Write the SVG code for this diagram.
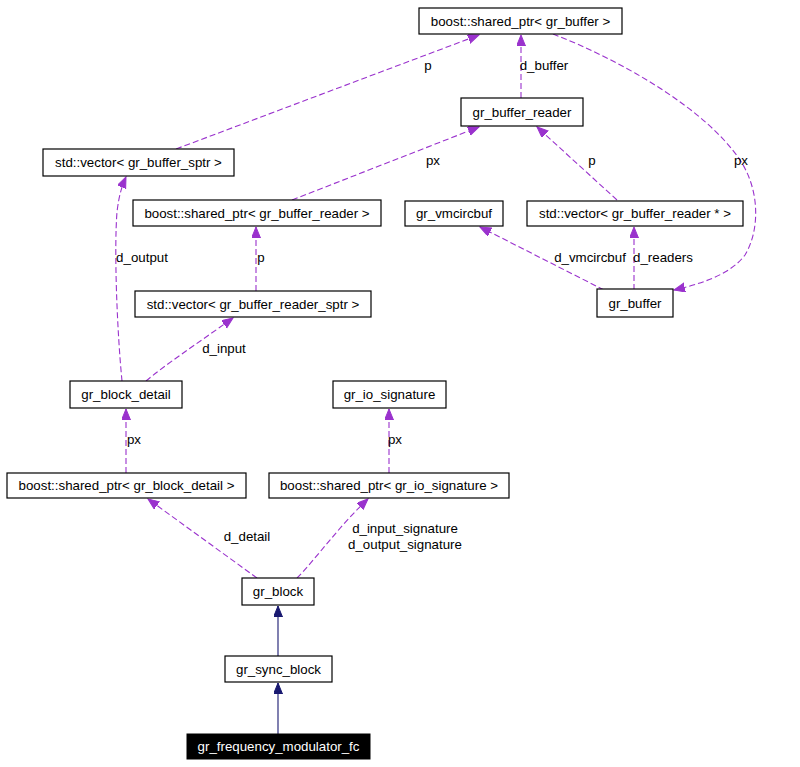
<svg xmlns="http://www.w3.org/2000/svg" width="800" height="767" viewBox="0 0 800 767">
<style>
.n rect{fill:#fff;stroke:#000;stroke-width:1.2}
.n text,.l{font-family:"Liberation Sans",Arial,sans-serif;font-size:13.3px;fill:#000;text-anchor:middle}
.d{fill:none;stroke:#9a32cd;stroke-width:1.1;stroke-dasharray:6,3}
.s{fill:none;stroke:#191970;stroke-width:1.1}
</style>
<defs>
<marker id="ap" markerWidth="12" markerHeight="10" refX="11" refY="4.5" orient="auto" markerUnits="userSpaceOnUse" viewBox="0 0 12 10">
<polygon points="0,0 11,4.5 0,9" fill="#9a32cd" stroke="#9a32cd"/>
</marker>
<marker id="as" markerWidth="12" markerHeight="10" refX="11" refY="4.5" orient="auto" markerUnits="userSpaceOnUse" viewBox="0 0 12 10">
<polygon points="0,0 11,4.5 0,9" fill="#191970" stroke="#191970"/>
</marker>
</defs>
<rect width="800" height="767" fill="#fff"/>
<g id="edges">
<path class="d" marker-end="url(#ap)" d="M176,149 L479,35"/>
<path class="d" marker-end="url(#ap)" d="M521,98 L521,35"/>
<path class="d" marker-end="url(#ap)" d="M553,34 C620,60 705,108 740,160 C760,190 760,230 745,255 C730,275 700,284 674,290"/>
<path class="d" marker-end="url(#ap)" d="M292,200 L479,127"/>
<path class="d" marker-end="url(#ap)" d="M617,200 L537,127"/>
<path class="d" marker-end="url(#ap)" d="M256,291 L256,227"/>
<path class="d" marker-end="url(#ap)" d="M604,290 L480,227"/>
<path class="d" marker-end="url(#ap)" d="M634,290 L634,227"/>
<path class="d" marker-end="url(#ap)" d="M122,381 C117,330 114,250 117,212 C119,195 122,186 126,177"/>
<path class="d" marker-end="url(#ap)" d="M146,381 C165,365 195,345 233,318"/>
<path class="d" marker-end="url(#ap)" d="M126,473 L126,409"/>
<path class="d" marker-end="url(#ap)" d="M389,473 L389,409"/>
<path class="d" marker-end="url(#ap)" d="M257,578 L148,499"/>
<path class="d" marker-end="url(#ap)" d="M297,578 C315,560 340,525 368,499"/>
<path class="s" marker-end="url(#as)" d="M278,656 L278,606"/>
<path class="s" marker-end="url(#as)" d="M278,734 L278,683"/>
<text class="l" x="428" y="70">p</text>
<text class="l" x="544" y="70">d_buffer</text>
<text class="l" x="433" y="165">px</text>
<text class="l" x="592" y="165">p</text>
<text class="l" x="741" y="165">px</text>
<text class="l" x="142" y="262">d_output</text>
<text class="l" x="261" y="262">p</text>
<text class="l" x="590" y="262">d_vmcircbuf</text>
<text class="l" x="663" y="262">d_readers</text>
<text class="l" x="224" y="353">d_input</text>
<text class="l" x="134" y="444">px</text>
<text class="l" x="395" y="444">px</text>
<text class="l" x="247" y="541">d_detail</text>
<text class="l" x="405" y="533">d_input_signature</text>
<text class="l" x="405" y="549">d_output_signature</text>
</g>
<g id="n1" class="n"><rect x="419" y="8" width="203" height="26"/><text x="520.5" y="26">boost::shared_ptr&lt; gr_buffer &gt;</text></g>
<g id="n2" class="n"><rect x="461" y="98" width="122" height="28"/><text x="522" y="117">gr_buffer_reader</text></g>
<g id="n3" class="n"><rect x="43" y="149" width="191" height="27"/><text x="138.5" y="167">std::vector&lt; gr_buffer_sptr &gt;</text></g>
<g id="n4" class="n"><rect x="133" y="200" width="248" height="26"/><text x="257" y="218">boost::shared_ptr&lt; gr_buffer_reader &gt;</text></g>
<g id="n5" class="n"><rect x="405" y="201" width="98" height="25"/><text x="454" y="218">gr_vmcircbuf</text></g>
<g id="n6" class="n"><rect x="527" y="201" width="216" height="25"/><text x="635" y="218">std::vector&lt; gr_buffer_reader * &gt;</text></g>
<g id="n7" class="n"><rect x="135" y="291" width="236" height="26"/><text x="253" y="309">std::vector&lt; gr_buffer_reader_sptr &gt;</text></g>
<g id="n8" class="n"><rect x="597" y="289" width="76" height="28"/><text x="635" y="308">gr_buffer</text></g>
<g id="n9" class="n"><rect x="70" y="381" width="112" height="27"/><text x="126" y="399">gr_block_detail</text></g>
<g id="n10" class="n"><rect x="333" y="381" width="113" height="27"/><text x="389.5" y="399">gr_io_signature</text></g>
<g id="n11" class="n"><rect x="7" y="473" width="239" height="25"/><text x="126.5" y="490">boost::shared_ptr&lt; gr_block_detail &gt;</text></g>
<g id="n12" class="n"><rect x="269" y="473" width="240" height="25"/><text x="389" y="490">boost::shared_ptr&lt; gr_io_signature &gt;</text></g>
<g id="n13" class="n"><rect x="242" y="578" width="72" height="27"/><text x="278" y="596">gr_block</text></g>
<g id="n14" class="n"><rect x="225" y="656" width="107" height="26"/><text x="278.5" y="674">gr_sync_block</text></g>
<g id="n15"><rect x="187" y="734" width="183" height="25" fill="#000" stroke="#000"/><text x="278.5" y="751" style="font-family:'Liberation Sans',Arial,sans-serif;font-size:13.3px;fill:#fff;text-anchor:middle">gr_frequency_modulator_fc</text></g>
</svg>
